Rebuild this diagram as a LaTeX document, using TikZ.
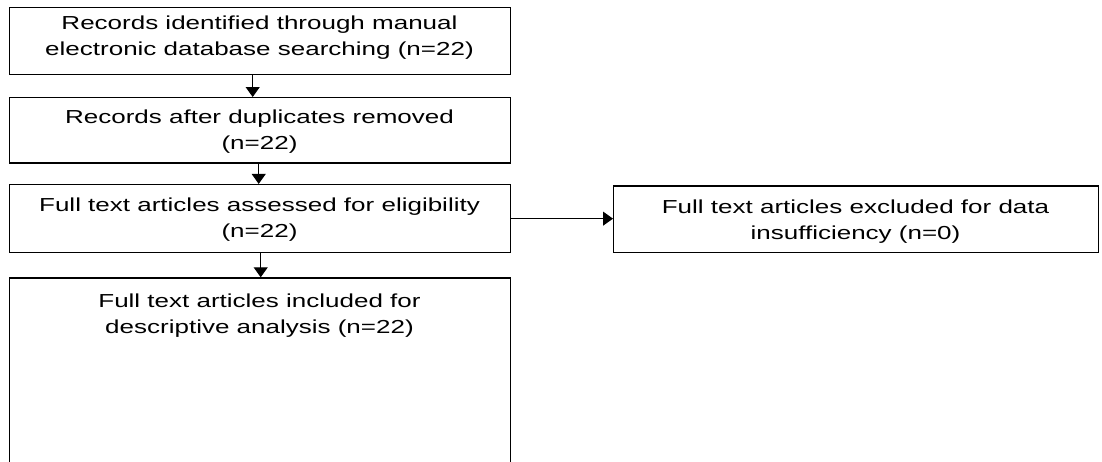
\documentclass[tikz,border=0pt]{standalone}
\usepackage{fontspec}
\usepackage{graphicx}
\setmainfont{Liberation Sans}
\usetikzlibrary{arrows.meta}
\newcommand\sqtext[1]{\scalebox{1}[0.724]{\begin{tabular}{@{}c@{}}#1\end{tabular}}}
\begin{document}
\begin{tikzpicture}[x=1pt,y=-0.724pt,
  boxnode/.style={draw, line width=1.4pt, inner sep=0pt, anchor=north west},
  txt/.style={font=\fontsize{26}{36}\selectfont, inner sep=0pt},
  conn/.style={line width=1pt, -{Triangle[length=10pt,width=14pt]}}]
\useasboundingbox (0,0) rectangle (1102,638);
\clip (0,0) rectangle (1102,638);
\node[boxnode, minimum width=501pt, minimum height=67pt] (b1) at (9,9) {};
\node[boxnode, minimum width=501pt, minimum height=65.2pt] (b2) at (9,134) {};
\node[boxnode, minimum width=501pt, minimum height=68.1pt] (b3) at (9,254) {};
\node[boxnode, minimum width=501pt, minimum height=220pt] (b4) at (9,383) {};
\node[boxnode, minimum width=485pt, minimum height=66.6pt] (r) at (613,256) {};
\node[txt] (t1) at (259.5,52) {\sqtext{Records identified through manual\\electronic database searching (n=22)}};
\node[txt] (t2) at (259.5,181) {\sqtext{Records after duplicates removed\\(n=22)}};
\node[txt] (t3) at (259.5,303) {\sqtext{Full text articles assessed for eligibility\\(n=22)}};
\node[txt] (t4) at (259.5,436) {\sqtext{Full text articles included for\\descriptive analysis (n=22)}};
\node[txt] (tr) at (855.5,305) {\sqtext{Full text articles excluded for data\\insufficiency (n=0)}};
\draw[conn] ([xshift=-7.5pt]b1.south) -- ([xshift=-7.5pt]b2.north);
\draw[conn] ([xshift=-1.5pt]b2.south) -- ([xshift=-1.5pt]b3.north);
\draw[conn] ([xshift=0.5pt]b3.south) -- ([xshift=0.5pt]b4.north);
\draw[conn] (b3.east) -- (b3.east -| r.west);
\end{tikzpicture}
\end{document}
